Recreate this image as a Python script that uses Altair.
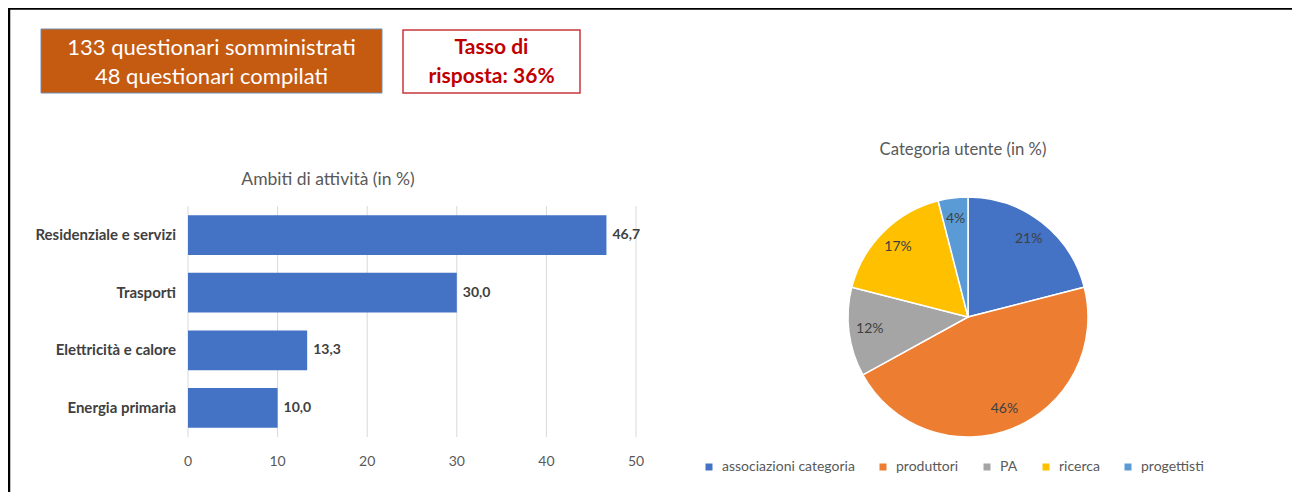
import altair as alt
import pandas as pd

# ---------------- data ----------------
bar_categories = ["Residenziale e servizi", "Trasporti", "Elettricità e calore", "Energia primaria"]
bar_values = [46.7, 30.0, 13.3, 10.0]
x_ticks = [0, 10, 20, 30, 40, 50]

pie_categories = ["associazioni categoria", "produttori", "PA", "ricerca", "progettisti"]
pie_values = [21, 46, 12, 17, 4]
pie_colors = ["#4472C4", "#ED7D31", "#A5A5A5", "#FFC000", "#5B9BD5"]

box1_lines = ["133 questionari somministrati", "48 questionari compilati"]
box2_lines = ["Tasso di", "risposta: 36%"]
bar_title = "Ambiti di attività (in %)"
pie_title = "Categoria utente (in %)"

# ---------------- tables ----------------
bar_df = pd.DataFrame({
    "category": bar_categories,
    "value": bar_values,
    "label": [f"{v:.1f}".replace(".", ",") for v in bar_values],
})
tick_df = pd.DataFrame({"tick": x_ticks, "tlabel": [str(t) for t in x_ticks]})
pie_df = pd.DataFrame({
    "category": pie_categories,
    "value": pie_values,
    "idx": list(range(len(pie_categories))),
    "label": [f"{v}%" for v in pie_values],
})

FONT = "Lato"
W, H = 1284, 484
M = 8  # page margin


def px(x):
    return x - M


def py(y):
    return y - M


one = alt.Data(values=[{}])

# ---------------- frame ----------------
frame_v = alt.Chart(one).mark_rule(color="black", strokeWidth=2.5).encode(
    x=alt.value(1), y=alt.value(0), y2=alt.value(H))
frame_h = alt.Chart(one).mark_rule(color="black", strokeWidth=2.5).encode(
    x=alt.value(0), x2=alt.value(W), y=alt.value(0.5))

# ---------------- header boxes ----------------
box1 = alt.Chart(one).mark_rect(fill="#C55A11", stroke="#6F8DB5", strokeWidth=1).encode(
    x=alt.value(px(41)), x2=alt.value(px(382)), y=alt.value(py(29)), y2=alt.value(py(93)))
box1_l1 = alt.Chart(one).mark_text(
    font=FONT, fontSize=22, color="white", align="center", baseline="middle"
).encode(x=alt.value(px(211.5)), y=alt.value(py(48)), text=alt.value(box1_lines[0]))
box1_l2 = alt.Chart(one).mark_text(
    font=FONT, fontSize=22, color="white", align="center", baseline="middle"
).encode(x=alt.value(px(211.5)), y=alt.value(py(77)), text=alt.value(box1_lines[1]))

box2 = alt.Chart(one).mark_rect(fill="white", stroke="#C8373A", strokeWidth=1.5).encode(
    x=alt.value(px(403)), x2=alt.value(px(580)), y=alt.value(py(30)), y2=alt.value(py(93)))
box2_l1 = alt.Chart(one).mark_text(
    font=FONT, fontSize=21, fontWeight="bold", color="#C00000", align="center", baseline="middle"
).encode(x=alt.value(px(491.5)), y=alt.value(py(48)), text=alt.value(box2_lines[0]))
box2_l2 = alt.Chart(one).mark_text(
    font=FONT, fontSize=21, fontWeight="bold", color="#C00000", align="center", baseline="middle"
).encode(x=alt.value(px(491.5)), y=alt.value(py(77)), text=alt.value(box2_lines[1]))

# ---------------- bar chart ----------------
xscale = alt.Scale(domain=[0, 50], range=[px(188), px(636)], nice=False)
yscale = alt.Scale(domain=bar_categories, range=[py(206), py(437)],
                   paddingInner=0.31, paddingOuter=0.16)

grid = alt.Chart(tick_df).mark_rule(color="#D9D9D9", strokeWidth=1).encode(
    x=alt.X("tick:Q", scale=xscale, axis=None),
    y=alt.value(py(206)), y2=alt.value(py(437)))

tick_labels = alt.Chart(tick_df).mark_text(
    font=FONT, fontSize=14, color="#595959", align="center", baseline="middle"
).encode(
    x=alt.X("tick:Q", scale=xscale, axis=None),
    y=alt.value(py(462)),
    text="tlabel:N",
)

bars = alt.Chart(bar_df).mark_bar(color="#4472C4").encode(
    x=alt.X("value:Q", scale=xscale, axis=None),
    y=alt.Y("category:N", scale=yscale, sort=bar_categories, axis=None),
)

cat_labels = alt.Chart(bar_df).mark_text(
    align="right", baseline="middle", font=FONT, fontSize=15,
    fontWeight="bold", color="#404040"
).encode(
    x=alt.value(px(176)),
    y=alt.Y("category:N", scale=yscale, sort=bar_categories, axis=None),
    text="category:N",
)

bar_labels = alt.Chart(bar_df).mark_text(
    align="left", baseline="middle", dx=6, font=FONT, fontSize=14,
    fontWeight="bold", color="#404040"
).encode(
    x=alt.X("value:Q", scale=xscale, axis=None),
    y=alt.Y("category:N", scale=yscale, sort=bar_categories, axis=None),
    text="label:N",
)

bar_title_mark = alt.Chart(one).mark_text(
    font=FONT, fontSize=17.5, color="#595959", align="center", baseline="middle"
).encode(x=alt.value(px(328)), y=alt.value(py(180)), text=alt.value(bar_title))

# ---------------- pie chart ----------------
CX, CY = px(968), py(317)

arc = alt.Chart(pie_df).mark_arc(outerRadius=120, stroke="white", strokeWidth=1.5).encode(
    theta=alt.Theta("value:Q", stack=True),
    color=alt.Color(
        "category:N",
        scale=alt.Scale(domain=pie_categories, range=pie_colors),
        legend=alt.Legend(
            title=None, orient="none", legendX=px(702), legendY=py(460),
            direction="horizontal", symbolType="square", symbolSize=49,
            symbolStrokeWidth=0, labelFont=FONT, labelFontSize=14,
            labelColor="#595959", columnPadding=21, labelOffset=6, padding=0,
        ),
    ),
    order=alt.Order("idx:Q"),
    x=alt.value(CX), y=alt.value(CY),
)

pie_labels = alt.Chart(pie_df).mark_text(
    radius=99, font=FONT, fontSize=14, color="#404040", align="center", baseline="middle"
).encode(
    theta=alt.Theta("value:Q", stack=True),
    order=alt.Order("idx:Q"),
    detail="category:N",
    text="label:N",
    x=alt.value(CX), y=alt.value(CY),
)

pie_title_mark = alt.Chart(one).mark_text(
    font=FONT, fontSize=16.7, color="#595959", align="center", baseline="middle"
).encode(x=alt.value(px(963)), y=alt.value(py(150)), text=alt.value(pie_title))

chart = alt.layer(
    frame_v, frame_h, box1, box1_l1, box1_l2, box2, box2_l1, box2_l2,
    grid, tick_labels, bars, cat_labels, bar_labels, bar_title_mark,
    arc, pie_labels, pie_title_mark,
).properties(
    width=W, height=H, padding=0, autosize=alt.AutoSizeParams(type="none"),
    background="white",
).configure_view(strokeWidth=0)

chart.save("out.html", embed_options={"renderer": "svg", "actions": False})
